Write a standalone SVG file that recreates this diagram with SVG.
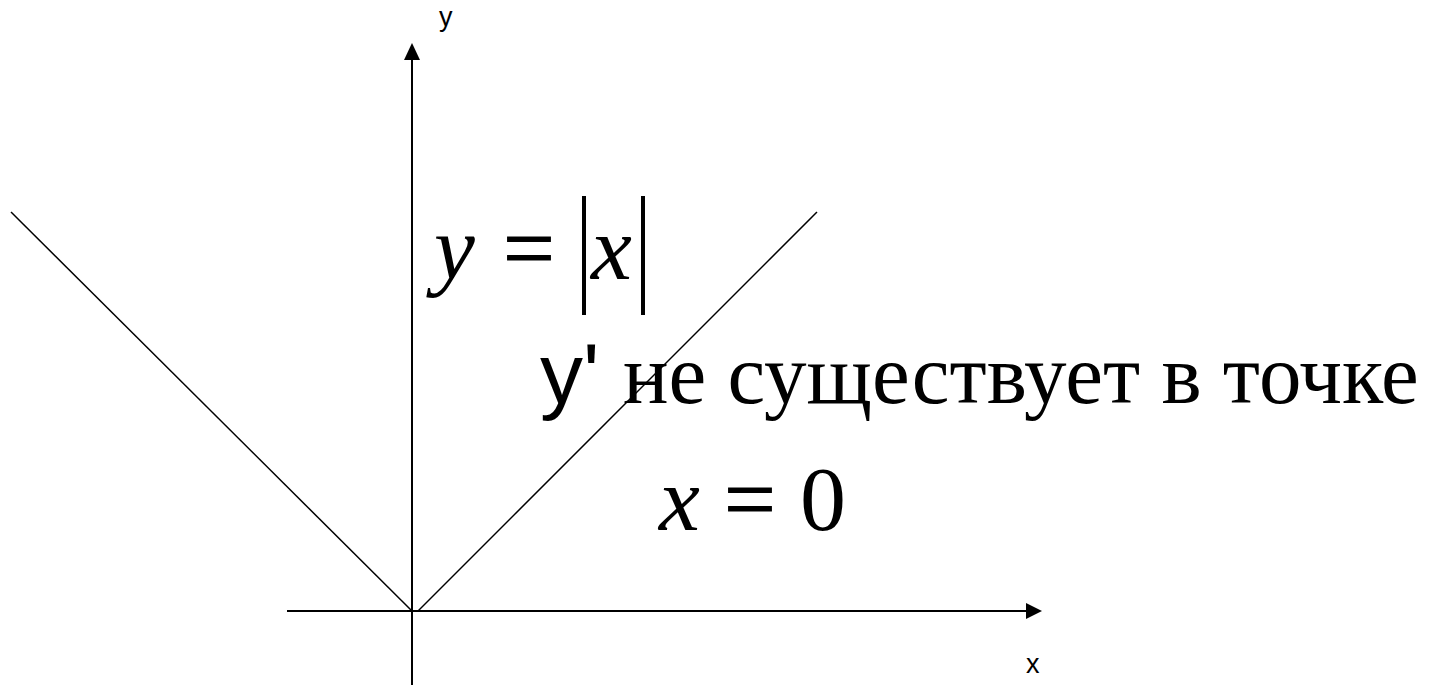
<svg xmlns="http://www.w3.org/2000/svg" width="1454" height="685" viewBox="0 0 1454 685">
<style>
.ax{stroke:#000;stroke-width:2;fill:none}
.ln{stroke:#000;stroke-width:1.5;fill:none}
.lbl{font-family:"Liberation Sans",Arial,sans-serif;font-size:27px;fill:#000}
.math{font-family:"Liberation Serif","Times New Roman",serif;font-size:92px;fill:#000}
.it{font-style:italic}
.txt{font-family:"Liberation Serif","Times New Roman",serif;font-size:85px;fill:#000}
.sans{font-family:"Liberation Sans",Arial,sans-serif;font-size:86px;fill:#000}
</style>
<rect width="1454" height="685" fill="#fff"/>
<g id="connectors">
<line class="ax" x1="412" y1="685" x2="412" y2="58"/>
<polygon points="412,43 404,60 420,60" fill="#000"/>
<line class="ax" x1="287" y1="611" x2="1028" y2="611"/>
<polygon points="1042,611 1026,603 1026,619" fill="#000"/>
<line class="ln" x1="11" y1="212" x2="412" y2="611"/>
<line class="ln" x1="418" y1="611" x2="817" y2="212"/>
</g>
<g id="axis-y-label"><text class="lbl" x="439" y="26">y</text></g>
<g id="axis-x-label"><text class="lbl" x="1026" y="673">x</text></g>
<g id="formula">
<text class="math it" x="434" y="279">y</text>
<text class="math" x="503" y="279" stroke="#000" stroke-width="1">=</text>
<line x1="584" y1="196" x2="584" y2="315" stroke="#000" stroke-width="4"/>
<text class="math it" x="591" y="279">x</text>
<line x1="643" y1="196" x2="643" y2="315" stroke="#000" stroke-width="4"/>
</g>
<g id="statement">
<text x="540" y="403"><tspan class="sans">y'</tspan><tspan class="txt" x="623">не существует в точке</tspan></text>
</g>
<g id="point">
<text class="math it" x="659" y="530">x</text>
<text class="math" x="724" y="530" stroke="#000" stroke-width="1">=</text>
<text class="math" x="800" y="530">0</text>
</g>
</svg>
